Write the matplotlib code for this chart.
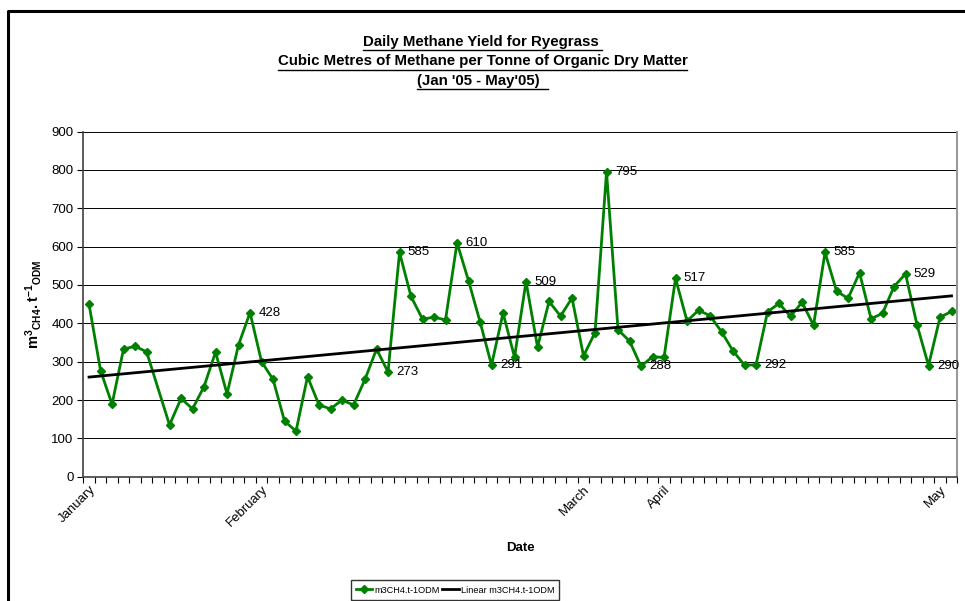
import numpy as np
import matplotlib
matplotlib.use("Agg")
import matplotlib.pyplot as plt
from matplotlib.lines import Line2D

plt.rcParams['font.family'] = ['Liberation Sans', 'DejaVu Sans']
plt.rcParams['mathtext.fontset'] = 'custom'
plt.rcParams['mathtext.rm'] = 'Liberation Sans'
plt.rcParams['mathtext.bf'] = 'Liberation Sans:bold'

# daily yield, one value per sample (index 6 has no reading)
yield_m3 = [450, 277, 189, 333, 340, 326, np.nan, 135, 204, 177,
            235, 325, 216, 344, 428, 300, 254, 145, 119, 261,
            187, 177, 200, 187, 254, 333, 273, 585, 470, 411,
            416, 409, 610, 511, 404, 291, 427, 312, 509, 338,
            457, 419, 466, 315, 376, 795, 383, 354, 288, 313,
            311, 517, 406, 434, 420, 378, 328, 291, 292, 430,
            452, 418, 455, 395, 585, 484, 465, 532, 412, 426,
            496, 529, 396, 290, 416, 431]
month_names = ["January", "February", "March", "April", "May"]
month_pos = [0, 15, 43, 50, 74]
labelled = [14, 26, 27, 32, 35, 38, 45, 48, 51, 58, 64, 71, 73]
title_lines = ["Daily Methane Yield for Ryegrass ",
               "Cubic Metres of Methane per Tonne of Organic Dry Matter",
               "(Jan '05 - May'05)  "]

y = np.array(yield_m3, dtype=float)
x = np.arange(len(y))
ok = ~np.isnan(y)

fig = plt.figure(figsize=(9.65, 6.01), dpi=100)
ax = fig.add_axes([0.0863, 0.2068, 0.9057, 0.5742])

ax.plot(x[ok], y[ok], color="#008000", lw=2, marker="D", ms=4,
        label="m3CH4.t-1ODM")

# linear trend line as excel does it
k, b = np.polyfit(x[ok], y[ok], 1)
ax.plot([x[0], x[-1]], [k * x[0] + b, k * x[-1] + b], color="black", lw=2,
        label="Linear m3CH4.t-1ODM")

for i in labelled:
    ax.annotate("%d" % y[i], (x[i], y[i]), xytext=(6, 0), textcoords="offset points",
                va="center", ha="left", fontsize=9.5)

ax.set_xlim(-0.5, len(y) - 0.5)
ax.set_ylim(0, 900)
ax.set_yticks(range(0, 901, 100))
ax.yaxis.grid(True, color="black", lw=0.7)
ax.set_axisbelow(True)

ax.set_xticks(np.arange(len(y) + 1) - 0.5)
ax.set_xticklabels([])
ax.set_xticks(month_pos, minor=True)
ax.set_xticklabels(month_names, minor=True, rotation=45, ha="right",
                   rotation_mode="anchor", fontsize=9.5)
ax.tick_params(axis="x", which="major", length=4, width=0.8, direction="out")
ax.tick_params(axis="x", which="minor", length=0, pad=5)
ax.tick_params(axis="y", length=4, width=0.8, labelsize=9.5, pad=3)

for s in ["left", "bottom"]:
    ax.spines[s].set_color("#404040")
    ax.spines[s].set_linewidth(1.2)
ax.spines["top"].set_visible(False)
ax.spines["right"].set_color("#999999")
ax.spines["right"].set_linewidth(1.5)

ax.set_xlabel("Date", fontsize=9.5, fontweight="bold")
ax.xaxis.set_label_coords(0.5, -0.19)
ax.set_ylabel(r"$\mathbf{m^{3}{}_{CH4}.t^{-1}{}_{ODM}}$", fontsize=10.5)
ax.yaxis.set_label_coords(-0.045, 0.5)

ax.legend(loc="center", bbox_to_anchor=(0.4715, 0.0183), bbox_transform=fig.transFigure,
          ncol=2, frameon=True, fancybox=False, edgecolor="black",
          prop={"family": "Liberation Sans", "size": 6.6},
          handlelength=1.8, handletextpad=0.2, columnspacing=0.3, borderpad=0.55)

title_y = [1 - 42 / 601, 1 - 61.5 / 601, 1 - 81 / 601]
titles = []
for t, ty in zip(title_lines, title_y):
    titles.append(fig.text(0.5, ty, t, ha="center", va="center", fontsize=10.8,
                           fontweight="bold"))

# underline the title lines
fig.canvas.draw()
r = fig.canvas.get_renderer()
for t in titles:
    bb = t.get_window_extent(r).transformed(fig.transFigure.inverted())
    uy = bb.y0 - 1 / 601
    fig.add_artist(Line2D([bb.x0, bb.x1], [uy, uy], color="black", lw=1))

# chart border (runs off the right and bottom edge)
bx = 7.5 / 965
by = 1 - 11 / 601
fig.add_artist(Line2D([bx, bx, 1.01], [-0.01, by, by], color="black", lw=2.2))

fig.savefig("out.png", dpi=100)
